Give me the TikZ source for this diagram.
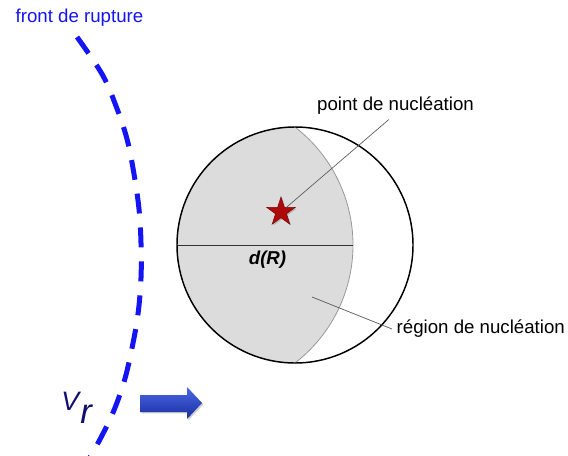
\documentclass[tikz,border=0pt]{standalone}
\usepackage{fontspec}
\setmainfont{Liberation Sans}
\usetikzlibrary{shapes.geometric,shadows}
\definecolor{frontblue}{RGB}{20,20,245}
\definecolor{zonegray}{RGB}{220,220,220}
\definecolor{starred}{RGB}{175,10,10}
\definecolor{vnavy}{RGB}{15,15,110}
\definecolor{arrowtop}{RGB}{75,105,230}
\definecolor{arrowbot}{RGB}{25,45,160}
\begin{document}
\begin{tikzpicture}[x=0.75pt, y=0.75pt, font=\fontsize{14}{17}\selectfont,
	leader/.style={draw=black!65, line width=0.5pt},
	softshadow/.style={drop shadow={shadow xshift=1pt, shadow yshift=-1pt, opacity=0.4}}]
	\useasboundingbox (0,0) rectangle (568,455);
	% front de rupture
	\draw[frontblue, line width=3.75pt, dash pattern=on 15pt off 10.5pt] plot[smooth, tension=0.6] coordinates {(77,418) (102,381) (116,349) (127,316) (134,281) (139,246) (141,212) (141,177) (138,141) (132,107) (124,73) (112,40) (97,10) (90,-2)};
	\node[text=frontblue] (frontlbl) at (79.5,437) {front de rupture};
	\node[text=vnavy, anchor=base west, inner sep=0pt] (vr) at (61,45) {\fontsize{20}{24}\selectfont\itshape V\kern1pt\raisebox{-9.75pt}{\fontsize{26}{30}\selectfont r}};
	\shade[top color=arrowtop, bottom color=arrowbot, softshadow] (140,43) -- (187,43) -- (187,36) -- (202,52) -- (187,68) -- (187,60) -- (140,60) -- cycle;
	% zone de nucleation
	\fill[zonegray] (295,328) arc[start angle=90, end angle=270, radius=118] arc[start angle=-52.36, end angle=52.36, radius=149] -- cycle;
	\draw[black!40, line width=0.6pt] (295,92) arc[start angle=-52.36, end angle=52.36, radius=149];
	\coordinate (dl) at (177,210);
	\coordinate (dr) at (353,210);
	\draw[black!80, line width=0.6pt] (dl) -- (dr);
	\node[circle, draw, line width=1.1pt, minimum size=177pt, inner sep=0pt] (disk) at (295,210) {};
	\node[font=\fontsize{14}{17}\selectfont\bfseries\itshape] (dR) at (267.5,195) {d(R)};
	% etiquettes
	\node[star, star points=5, star point ratio=2.618, fill=starred, draw=starred!70!black, line width=0.4pt, minimum size=22.5pt, inner sep=0pt, softshadow] (star) at (281,243) {};
	\node (ptlabel) at (395.5,349) {point de nucléation};
	\draw[leader] (star) -- ([xshift=-5pt]ptlabel.south);
	\coordinate (rgpt) at (312,158);
	\node[anchor=west] (rglabel) at (392,126) {région de nucléation};
	\draw[leader] (rgpt) -- (rglabel.west);
\end{tikzpicture}
\end{document}
